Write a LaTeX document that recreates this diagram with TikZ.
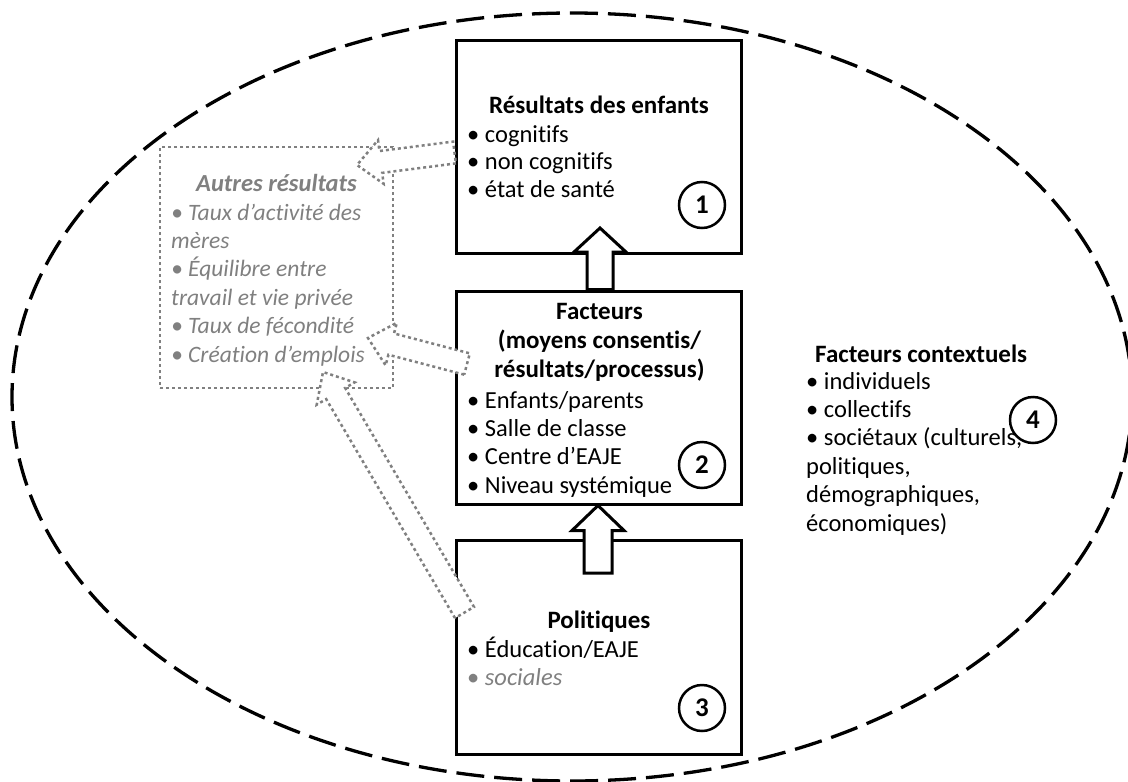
\documentclass[tikz,border=0pt]{standalone}
\usepackage{fontspec}
\setmainfont{Carlito}[Ligatures=NoCommon]
\usetikzlibrary{calc}
\definecolor{grayt}{RGB}{128,128,128}
\newcommand{\ns}{\spaceskip=\fontdimen2\font\relax\xspaceskip=\fontdimen2\font\relax}
\newcommand{\blockarrow}[6]{%
  \coordinate (bahb) at ($(#3)!#6!(#2)$);
  \path[#1] ($(#2)!#4!90:(#3)$) -- ($(bahb)!#4!90:(#3)$) -- ($(bahb)!#5!90:(#3)$) -- (#3)
    -- ($(bahb)!#5!-90:(#3)$) -- ($(bahb)!#4!-90:(#3)$) -- ($(#2)!#4!-90:(#3)$) -- cycle;}
\begin{document}
\begin{tikzpicture}[x=1pt,y=-1pt,
  box/.style={draw, line width=3pt, minimum width=285pt, inner sep=0pt},
  gbox/.style={draw=grayt, line width=2.5pt, dash pattern=on 3pt off 3pt, inner sep=0pt},
  num/.style={circle, draw, line width=2.5pt, minimum size=46pt, inner sep=0pt, font=\fontsize{27}{28}\selectfont\bfseries},
  txt/.style={inner sep=0pt, font=\fontsize{24.5}{28.4}\selectfont, align=left, anchor=base west},
  ttl/.style={inner sep=0pt, font=\fontsize{25}{29}\selectfont\bfseries, align=center, anchor=base},
  gtxt/.style={txt, text=grayt, font=\fontsize{23.5}{28.4}\selectfont\itshape},
  ell/.style={draw, line width=3.3pt, dash pattern=on 28pt off 10pt},
  barrow/.style={draw, fill=white, line width=3pt, line join=miter},
  garrow/.style={draw=grayt, fill=white, line width=2.5pt, dash pattern=on 3pt off 3pt}]
\useasboundingbox (0,0) rectangle (1128,782);
\clip (0,0) rectangle (1128,782);
\fill[white] (0,0) rectangle (1128,782);
% context ellipse
\draw[ell] (572,397) ellipse [x radius=560pt, y radius=384pt];
% boxes
\node[box, minimum height=213pt] (b1) at (598.5,146.5) {};
\node[box, minimum height=213pt] (b2) at (598.5,397.5) {};
\node[box, minimum height=214pt] (b3) at (598.5,647) {};
\node[gbox, minimum width=233pt, minimum height=241pt] (ab) at (276.5,267.5) {};
% box 1 texts
\node[ttl] (t1) at (599,113) {Résultats des enfants};
\node[txt, text width=250pt, font=\fontsize{24.5}{27.6}\selectfont] (l1) at (467,142) {\ns• cognitifs\\• non cognitifs\\• état de santé};
% box 2 texts
\node[ttl, text width=285pt] (t2) at (599.5,319) {\ns Facteurs\\(moyens consentis/\\résultats/processus)};
\node[txt, text width=250pt] (l2) at (467,408) {\ns• Enfants/parents\\• Salle de classe\\• Centre d’EAJE\\• Niveau systémique};
% box 3 texts
\node[ttl] (t3) at (599,628) {Politiques};
\node[txt, text width=250pt] (l3) at (467,657) {\ns• Éducation/EAJE\\\textcolor{grayt}{• \textit{sociales}}};
% other outcomes
\node[ttl, text=grayt, font=\fontsize{24.5}{29}\selectfont\bfseries\itshape] (ta) at (276.5,191) {Autres résultats};
\node[gtxt, text width=225pt] (la) at (171,220) {\ns• Taux d’activité des\\mères\\• Équilibre entre\\travail et vie privée\\• Taux de fécondité\\• Création d’emplois};
% contextual factors
\node[txt, font=\fontsize{25}{28}\selectfont\bfseries] (tc) at (815,362) {Facteurs contextuels};
\node[txt, text width=230pt] (lc) at (806,389) {\ns• individuels\\• collectifs\\• sociétaux (culturels,\\politiques,\\démographiques,\\économiques)};
% numbers
\node[num] (n1) at (702,205) {1};
\node[num] (n2) at (702,465) {2};
\node[num] (n3) at (702,708) {3};
\node[num] (n4) at (1033,420) {4};
% black block arrows
\coordinate (a1s) at (b2.north -| 600,0);
\coordinate (a1t) at (600,228);
\blockarrow{barrow}{a1s}{a1t}{13pt}{26pt}{24pt}
\coordinate (a2s) at (598,573);
\coordinate (a2t) at (b2.south -| 598,0);
\blockarrow{barrow}{a2s}{a2t}{14pt}{26pt}{25pt}
% gray block arrows
\coordinate (g1s) at (b1.west |- 0,152.5);
\coordinate (g1t) at (357,165);
\blockarrow{garrow}{g1s}{g1t}{11pt}{22pt}{24pt}
\coordinate (g2s) at (467,364);
\coordinate (g2t) at (368,338);
\blockarrow{garrow}{g2s}{g2t}{11pt}{22pt}{24pt}
\coordinate (g3s) at (464.5,612.5);
\coordinate (g3t) at (323,372);
\blockarrow{garrow}{g3s}{g3t}{11pt}{22pt}{25pt}
\end{tikzpicture}
\end{document}
